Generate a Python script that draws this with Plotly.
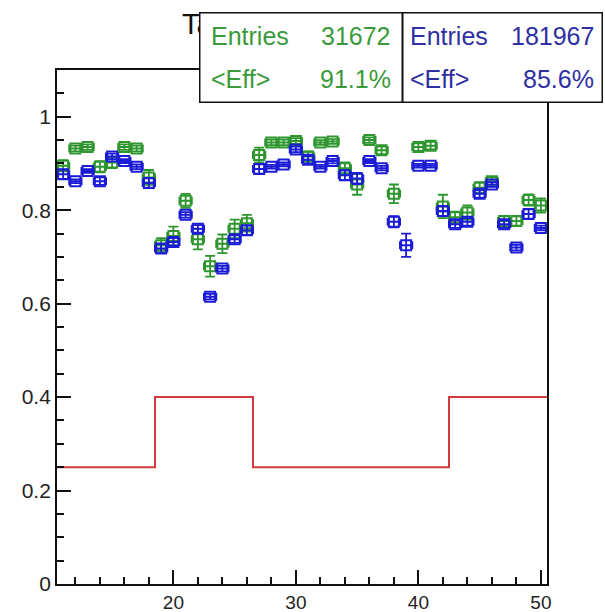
import plotly.graph_objects as go

# ---- data ----
bins = list(range(11, 51))
green_eff = [0.895, 0.932, 0.935, 0.893, 0.902, 0.935, 0.932, 0.870, 0.725, 0.745,
             0.820, 0.738, 0.680, 0.728, 0.760, 0.772, 0.918, 0.945, 0.945, 0.948,
             0.915, 0.945, 0.947, 0.890, 0.855, 0.950, 0.928, 0.835, None, 0.935,
             0.938, 0.808, 0.785, 0.795, 0.848, 0.862, 0.777, 0.777, 0.822, 0.810]
green_err = [0.012, 0.006, 0.006, 0.012, 0.012, 0.006, 0.006, 0.016, 0.015, 0.020,
             0.015, 0.022, 0.022, 0.020, 0.020, 0.018, 0.016, 0.006, 0.006, 0.006,
             0.010, 0.005, 0.005, 0.012, 0.022, 0.006, 0.008, 0.020, 0.0, 0.008,
             0.008, 0.025, 0.012, 0.015, 0.012, 0.008, 0.010, 0.010, 0.012, 0.015]
blue_eff = [0.877, 0.862, 0.884, 0.862, 0.915, 0.905, 0.893, 0.858, 0.718, 0.732,
            0.790, 0.760, 0.615, 0.675, 0.738, 0.757, 0.888, 0.893, 0.898, 0.930,
            0.908, 0.893, 0.905, 0.875, 0.868, 0.905, 0.890, 0.775, 0.725, 0.895,
            0.895, 0.798, 0.770, 0.775, 0.835, 0.855, 0.770, 0.720, 0.792, 0.762]
blue_err = [0.010, 0.004, 0.004, 0.008, 0.006, 0.004, 0.005, 0.010, 0.010, 0.008,
            0.006, 0.008, 0.006, 0.006, 0.008, 0.010, 0.010, 0.004, 0.004, 0.006,
            0.008, 0.004, 0.005, 0.010, 0.012, 0.004, 0.005, 0.012, 0.025, 0.004,
            0.004, 0.010, 0.008, 0.008, 0.008, 0.005, 0.008, 0.006, 0.010, 0.005]
half_width = [0.5] * len(bins)

thr_edges = [10.5, 18.5, 26.5, 42.5, 50.5]
thr_vals = [0.25, 0.40, 0.25, 0.40]

stats_green = ("Entries", "31672", "<Eff>", "91.1%")
stats_blue = ("Entries", "181967", "<Eff>", "85.6%")
title_text = "Ta"

y_ticks = [0, 0.2, 0.4, 0.6, 0.8, 1.0]
y_ticklabels = ["0", "0.2", "0.4", "0.6", "0.8", "1"]
x_ticks = [20, 30, 40, 50]

GREEN = "#2e962e"
BLUE = "#1c1cd6"
RED = "#d43a3a"
GREEN_TXT = "#3a9a3a"
BLUE_TXT = "#2f2fa3"

# ---- layout geometry (pixels) ----
W, H = 605, 612
L, R, T, B = 57, 58, 70, 28
PW, PH = W - L - R, H - T - B


def px(p):
    return (p - L) / PW


def py(q):
    return (H - B - q) / PH


fig = go.Figure()

fig.add_trace(go.Scatter(
    x=thr_edges, y=thr_vals + [thr_vals[-1]], mode="lines",
    line=dict(color=RED, width=2, shape="hv"), hoverinfo="skip"))

for vals, errs, col in ((green_eff, green_err, GREEN), (blue_eff, blue_err, BLUE)):
    fig.add_trace(go.Scatter(
        x=bins, y=vals, mode="markers",
        marker=dict(symbol="square-open", size=10, color=col, line=dict(width=2, color=col)),
        error_x=dict(type="data", array=half_width, color=col, thickness=2, width=4),
        error_y=dict(type="data", array=errs, color=col, thickness=1.8, width=5),
    ))

font_family = "Liberation Sans, Arial, sans-serif"

ann = []
# title (partly hidden behind stats boxes)
ann.append(dict(text=title_text, x=px(180), y=py(24), xref="paper", yref="paper",
                xanchor="left", yanchor="middle", showarrow=False,
                font=dict(family=font_family, size=29, color="#111")))
# stats boxes
for (x0, x1) in ((199, 402), (402, 602)):
    ann.append(dict(text=" ", x=px((x0 + x1) / 2), y=py(57), xref="paper", yref="paper",
                    xanchor="center", yanchor="middle", showarrow=False,
                    width=x1 - x0 - 2, height=88, bgcolor="white",
                    bordercolor="#111", borderwidth=1.5, borderpad=0))


def add_stats(stats, xl, xr, col):
    rows = ((stats[0], stats[1], 36), (stats[2], stats[3], 79))
    for lab, val, yc in rows:
        ann.append(dict(text=lab, x=px(xl), y=py(yc), xref="paper", yref="paper",
                        xanchor="left", yanchor="middle", showarrow=False,
                        font=dict(family=font_family, size=25, color=col)))
        ann.append(dict(text=val, x=px(xr), y=py(yc), xref="paper", yref="paper",
                        xanchor="right", yanchor="middle", showarrow=False,
                        font=dict(family=font_family, size=25, color=col)))


add_stats(stats_green, 209, 393, GREEN_TXT)
add_stats(stats_blue, 408, 596, BLUE_TXT)

axis_common = dict(showgrid=False, zeroline=False, showline=True, linecolor="#111",
                   linewidth=1.8, mirror=True, ticks="inside", tickcolor="#111",
                   tickwidth=1.5, ticklen=14, automargin=False)

fig.update_layout(
    width=W, height=H, margin=dict(l=L, r=R, t=T, b=B, autoexpand=False),
    paper_bgcolor="white", plot_bgcolor="white", showlegend=False,
    xaxis=dict(range=[10.5, 50.5], tickmode="array", tickvals=x_ticks,
               tickfont=dict(family=font_family, size=19, color="#222"),
               minor=dict(dtick=2, tick0=0, ticks="inside", ticklen=7, tickcolor="#111", tickwidth=1.5),
               **axis_common),
    yaxis=dict(range=[0, 1.1], tickmode="array", tickvals=y_ticks, ticktext=y_ticklabels,
               tickfont=dict(family=font_family, size=21, color="#222"),
               minor=dict(dtick=0.05, tick0=0, ticks="inside", ticklen=7, tickcolor="#111", tickwidth=1.5),
               **axis_common),
    annotations=ann,
)

fig.write_html("out.html", config={"displayModeBar": False},
               post_script="document.body.style.margin='0';document.body.style.overflow='hidden';")
